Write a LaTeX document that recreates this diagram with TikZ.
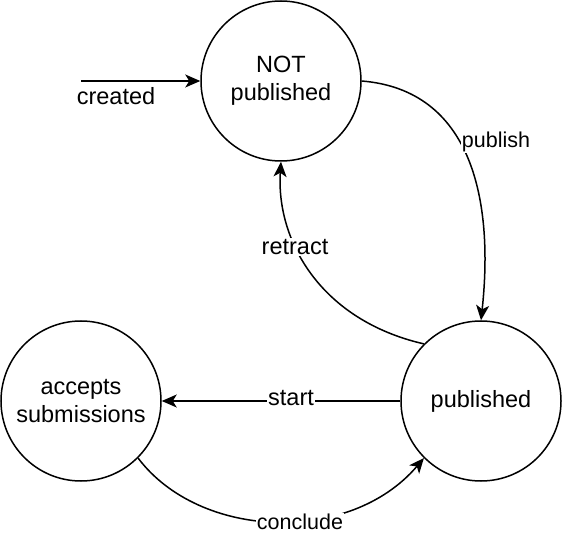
\documentclass[tikz,border=0pt]{standalone}
\usepackage{fontspec}
\setmainfont{Liberation Sans}
\usetikzlibrary{arrows.meta}
\begin{document}
\begin{tikzpicture}[x=1pt,y=-1pt,
  state/.style={draw,circle,line width=1.5pt,minimum size=160pt,inner sep=0pt,align=center,font=\fontsize{23.5}{28}\selectfont},
  conn/.style={line width=1.5pt,-{Stealth[length=15pt,width=13pt,inset=4pt]}},
  lbl/.style={fill=white,inner sep=1pt,font=\fontsize{23.5}{28}\selectfont},
  slbl/.style={fill=white,inner sep=1pt,font=\fontsize{21.5}{26}\selectfont}]
\useasboundingbox (0,0) rectangle (562,534);
\node[state] (np) at (281,81) {NOT\\published};
\node[state] (acc) at (81,401) {accepts\\submissions};
\node[state] (pub) at (481,401) {published};
\coordinate (c0) at (81,81);
\draw[conn] (c0) -- (np.west);
\node[lbl,fill=none] (lc) at (116,96) {created};
\draw[conn] (np.east) .. controls (472,90) and (494,200) .. (pub.north);
\node[slbl] (lp) at (496,142) {publish};
\draw[conn] (pub.north west) .. controls (320,320) and (276,240) .. (np.south);
\node[lbl] (lr) at (295,247) {retract};
\draw[conn] (pub.west) -- (acc.east);
\node[lbl] (ls) at (291,398) {start};
\draw[conn] (acc.south east) .. controls (200,540) and (350,545) .. (pub.south west);
\node[slbl] (lcn) at (300,522) {conclude};
\end{tikzpicture}
\end{document}
